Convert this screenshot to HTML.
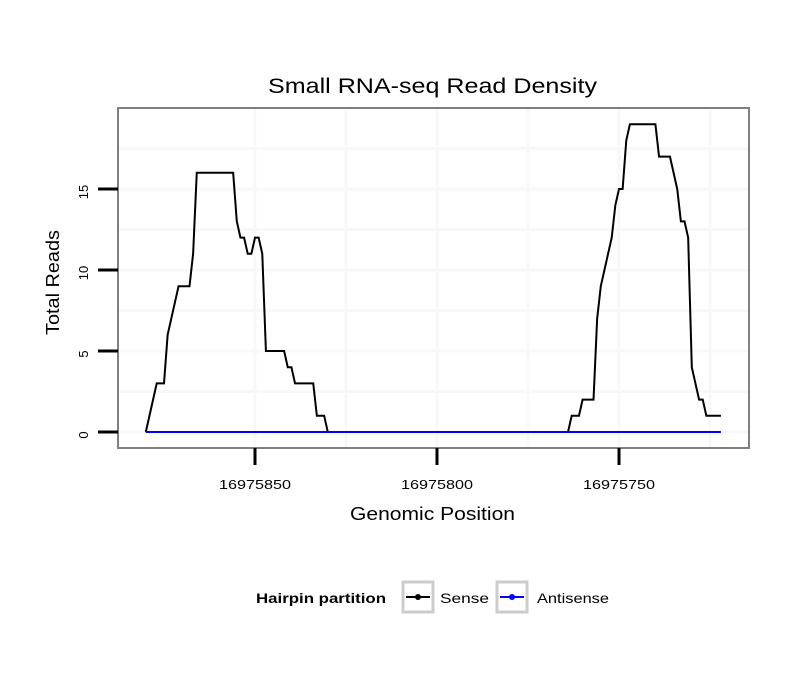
<!DOCTYPE html>
<html><head><meta charset="utf-8"><style>
body{margin:0;background:#fff;font-family:"Liberation Sans",sans-serif}
</style></head><body>
<svg id="chart" width="810" height="690" xmlns="http://www.w3.org/2000/svg" font-family="Liberation Sans, sans-serif">
<rect width="810" height="690" fill="#fff"/>
<text x="268" y="93" font-size="21" textLength="329" lengthAdjust="spacingAndGlyphs">Small RNA-seq Read Density</text>
<g id="grid"></g>
<g id="series"></g>
<rect x="118" y="108" width="631" height="340" fill="none" stroke="#808080" stroke-width="2"/>
<g id="axes"></g>
<text x="350" y="520" font-size="18" textLength="165" lengthAdjust="spacingAndGlyphs">Genomic Position</text>
<text transform="translate(59,335) rotate(-90)" font-size="18" textLength="105" lengthAdjust="spacingAndGlyphs">Total Reads</text>
<g>
<text x="256" y="603" font-size="14" font-weight="bold" textLength="130" lengthAdjust="spacingAndGlyphs">Hairpin partition</text>
<g>
<rect x="403" y="582" width="30" height="30" fill="#fff" stroke="#ccc" stroke-width="3"/>
<line x1="406" y1="597" x2="430" y2="597" stroke="#000" stroke-width="2"/>
<circle cx="418" cy="597" r="3" fill="#000"/>
<text x="440" y="603" font-size="14" textLength="49" lengthAdjust="spacingAndGlyphs">Sense</text>
</g>
<g>
<rect x="497" y="582" width="30" height="30" fill="#fff" stroke="#ccc" stroke-width="3"/>
<line x1="500" y1="597" x2="524" y2="597" stroke="#00f" stroke-width="2"/>
<circle cx="512" cy="597" r="3" fill="#00f"/>
<text x="537" y="603" font-size="14" textLength="72" lengthAdjust="spacingAndGlyphs">Antisense</text>
</g>
</g>
</svg>
<script>
const positions=[16975880,16975878,16975877,16975875,16975874,16975871,16975868,16975867,16975866,16975856,16975855,16975854,16975853,16975852,16975851,16975850,16975849,16975848,16975847,16975842,16975841,16975840,16975839,16975834,16975833,16975831,16975830,16975764,16975763,16975761,16975760,16975757,16975756,16975755,16975752,16975751,16975750,16975749,16975748,16975747,16975740,16975739,16975736,16975734,16975733,16975732,16975731,16975730,16975728,16975727,16975726,16975722];
const senseReads=[0,2,3,3,6,9,9,11,16,16,13,12,12,11,11,12,12,11,5,5,4,4,3,3,1,1,0,0,1,1,2,2,7,9,12,14,15,15,18,19,19,17,17,15,13,13,12,4,2,2,1,1];
const antisenseStart=[16975880,16975722];
const antisenseReads=[0,0];
const xTicks=[16975850,16975800,16975750];
const xMinor=[16975825,16975775,16975725];
const yTicks=[0,5,10,15];
const yMinor=[2.5,7.5,12.5,17.5];
const NS="http://www.w3.org/2000/svg";
function X(p){return 255+(16975850-p)*3.64;}
function Y(v){return 432-v*16.2;}
function mk(t,a,parent){const e=document.createElementNS(NS,t);for(const k in a)e.setAttribute(k,a[k]);parent.appendChild(e);return e;}
const grid=document.getElementById('grid'),axes=document.getElementById('axes'),series=document.getElementById('series');
xTicks.concat(xMinor).forEach(p=>{const l=mk('line',{x1:X(p),x2:X(p),y1:109,y2:447,stroke:'#f8f8f8','stroke-width':3},grid);

});
yTicks.concat(yMinor).forEach(v=>{const l=mk('line',{x1:119,x2:748,y1:Y(v),y2:Y(v),stroke:'#f8f8f8','stroke-width':3},grid);

});
xTicks.forEach(p=>{const t=mk('line',{x1:X(p),x2:X(p),y1:448,y2:465,stroke:'#000','stroke-width':3},axes);


const tx=mk('text',{x:X(p)-36,y:489,'font-size':13,textLength:72,lengthAdjust:'spacingAndGlyphs'},axes);tx.textContent=p;

});
yTicks.forEach(v=>{const t=mk('line',{x1:98,x2:118,y1:Y(v),y2:Y(v),stroke:'#000','stroke-width':3},axes);


const tx=mk('text',{transform:`translate(88,${Y(v)+3}) rotate(-90)`,'font-size':13,'text-anchor':'middle'},axes);tx.textContent=v;

});
const s=mk('polyline',{points:positions.map((p,i)=>X(p)+','+Y(senseReads[i])).join(' '),fill:'none',stroke:'#000','stroke-width':2},series);


const a=mk('polyline',{points:antisenseStart.map((p,i)=>X(p)+','+Y(antisenseReads[i])).join(' '),fill:'none',stroke:'#00f','stroke-width':2},series);


</script>
</body></html>
